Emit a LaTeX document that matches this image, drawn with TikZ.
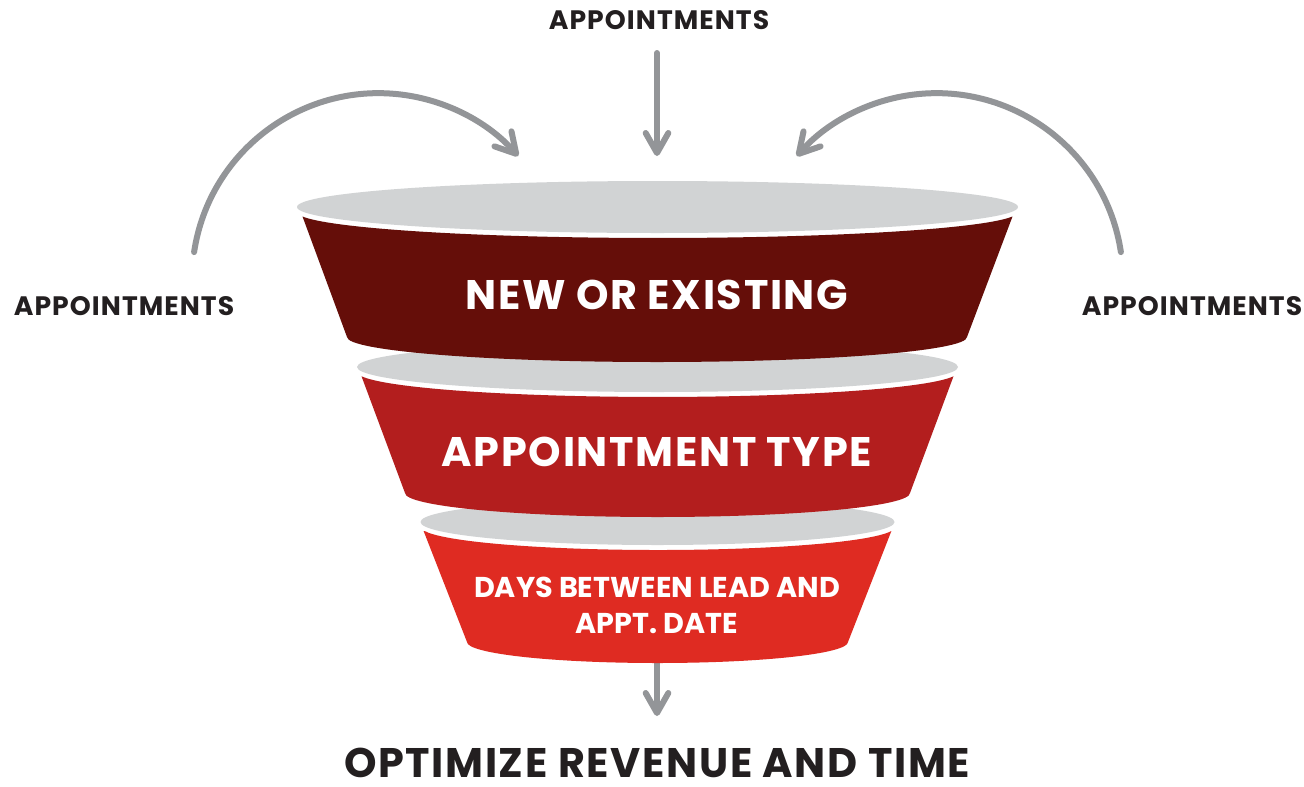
\documentclass[tikz,border=0pt]{standalone}
\usepackage{fontspec}
\setmainfont{Poppins}
\newfontfamily\spaced{Poppins}[LetterSpace=4]
\usetikzlibrary{arrows.meta}
\definecolor{redA}{HTML}{650E09}
\definecolor{redB}{HTML}{B31E1E}
\definecolor{redC}{HTML}{DF2B22}
\definecolor{rim}{HTML}{D1D3D4}
\definecolor{arrowgray}{HTML}{939598}
\definecolor{ink}{HTML}{231F20}
\tikzset{
  lab/.style={inner sep=0pt, text=ink, font=\spaced\bfseries\fontsize{20}{22}\selectfont},
  outlab/.style={inner sep=0pt, text=ink, font=\spaced\bfseries\fontsize{31}{36}\selectfont},
  layertext/.style={inner sep=0pt, text=white, font=\spaced\bfseries\fontsize{31}{36}\selectfont},
  smalltext/.style={inner sep=0pt, text=white, align=center, font=\bfseries\fontsize{21.5}{27}\selectfont},
  flow/.style={draw=arrowgray, line width=4.5pt, line cap=round,
    -{Straight Barb[length=15pt, width=17pt, round]}},
}
\begin{document}
\begin{tikzpicture}[x=0.75pt, y=-0.75pt]
\useasboundingbox (0,0) rectangle (1304,786);
\fill[white] (0,0) rectangle (1304,786);

% incoming arrows
\coordinate (topstart) at (657,53);
\coordinate (topend) at (657,156);
\draw[flow] (topstart) -- (topend);
\coordinate (lstart) at (194.1,252.1);
\draw[flow] (lstart) arc[start angle=-171.5, end angle=-41.5, radius=186.5];
\coordinate (rstart) at (1120.9,252.1);
\draw[flow] (rstart) arc[start angle=-8.5, end angle=-138.5, radius=186.5];

% outgoing arrow
\coordinate (botstart) at (657,655);
\coordinate (botend) at (657,716);
\draw[flow] (botstart) -- (botend);

% layer 3
\fill[redC] (423.6,531.0) -- (467,642) arc[start angle=180, end angle=0, x radius=190.5, y radius=21]
  -- (891.4,531.0) arc[start angle=10, end angle=170, x radius=237, y radius=23] -- cycle;
\fill[rim] (657.5,522) ellipse[x radius=237, y radius=23];

% layer 2
\fill[redB] (361.5,376.3) -- (405,493) arc[start angle=180, end angle=0, x radius=252.5, y radius=24]
  -- (953.5,376.3) arc[start angle=10, end angle=170, x radius=300.5, y radius=25] -- cycle;
\fill[rim] (657.5,367) ellipse[x radius=300.5, y radius=25];

% layer 1
\fill[redA] (302.5,216.5) -- (347,337) arc[start angle=180, end angle=0, x radius=310, y radius=25]
  -- (1012.5,216.5) arc[start angle=10, end angle=170, x radius=360.5, y radius=26] -- cycle;
\fill[rim] (657.5,207) ellipse[x radius=360.5, y radius=26];

% texts
\node[layertext] (l1) at (657,295) {NEW OR EXISTING};
\node[layertext] (l2) at (657,452) {APPOINTMENT TYPE};
\node[smalltext] (l3) at (657,605) {DAYS BETWEEN LEAD AND\\APPT. DATE};

\node[lab] (atop) at (659,20) {APPOINTMENTS};
\node[lab] (aleft) at (124,306) {APPOINTMENTS};
\node[lab] (aright) at (1192,306) {APPOINTMENTS};
\node[outlab] (result) at (657,763) {OPTIMIZE REVENUE AND TIME};
\end{tikzpicture}
\end{document}
